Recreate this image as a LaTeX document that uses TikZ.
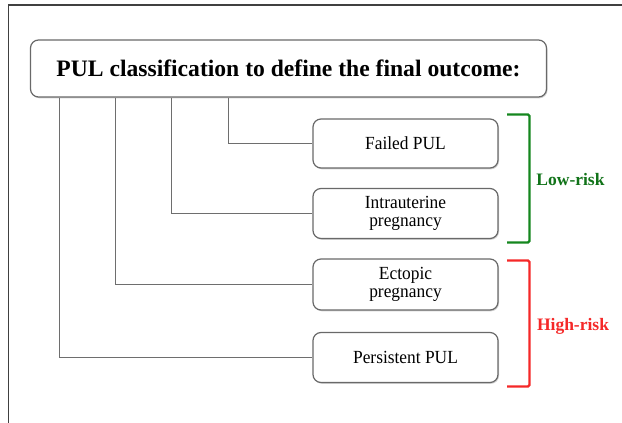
\documentclass[tikz,border=0pt]{standalone}
\usepackage{fontspec}
\setmainfont{Liberation Serif}
\newfontfamily\boxfont[FakeStretch=0.94]{Liberation Serif}
\usetikzlibrary{shadows}
\definecolor{boxline}{RGB}{105,105,105}
\definecolor{conline}{RGB}{110,110,110}
\definecolor{lowgreen}{RGB}{20,135,30}
\definecolor{highred}{RGB}{245,40,40}
\begin{document}
\begin{tikzpicture}[x=1pt,y=-1pt,
  rbox/.style={draw=boxline, line width=1.2pt, rounded corners=8pt, fill=white,
    drop shadow={shadow xshift=1pt, shadow yshift=-1.3pt, opacity=0.35, fill=gray},
    minimum width=185pt, align=center, font=\boxfont\fontsize{18.5}{17.5}\selectfont, inner sep=0pt},
  conn/.style={draw=conline, line width=1pt},
  bracket/.style={line width=2.2pt},
  risk/.style={font=\fontsize{17.5}{20}\selectfont\bfseries}]
\useasboundingbox (0,0) rectangle (622,423);
\fill[white] (0,0) rectangle (622,423);
% frame
\draw[line width=1.8pt, black!75] (8.5,423) -- (8.5,5) -- (622,5);
% header
\node[rbox, minimum width=516pt, minimum height=57pt, font=\fontsize{23.6}{28}\selectfont\bfseries]
  (head) at (288.5,68.5) {PUL classification to define the final outcome:};
% boxes
\node[rbox, minimum height=49pt] (failed) at (405.5,143.5) {Failed PUL};
\node[rbox, minimum height=50pt] (iup) at (405.5,213.5) {Intrauterine\\pregnancy};
\node[rbox, minimum height=51pt] (ect) at (405.5,284.5) {Ectopic\\pregnancy};
\node[rbox, minimum height=50pt] (pers) at (405.5,357.5) {Persistent PUL};
% connectors
\coordinate (c1) at (228.5,97);
\coordinate (c2) at (171.5,97);
\coordinate (c3) at (115.5,97);
\coordinate (c4) at (59.5,97);
\draw[conn] (head.south -| c1) |- (failed.west);
\draw[conn] (head.south -| c2) |- (iup.west);
\draw[conn] (head.south -| c3) |- (ect.west);
\draw[conn] (head.south -| c4) |- (pers.west);
% brackets
\coordinate (g1) at (507,114.5);
\coordinate (g2) at (529.5,114.5);
\coordinate (g3) at (529.5,242.5);
\coordinate (g4) at (507,242.5);
\draw[bracket, lowgreen, rounded corners=1.5pt] (g1) -- (g2) -- (g3) -- (g4);
\coordinate (r1) at (507,260.5);
\coordinate (r2) at (529.5,260.5);
\coordinate (r3) at (529.5,386.5);
\coordinate (r4) at (507,386.5);
\draw[bracket, highred, rounded corners=1.5pt] (r1) -- (r2) -- (r3) -- (r4);
\node[risk, text=lowgreen!85!black] (low) at (570.5,180) {Low-risk};
\node[risk, text=highred] (high) at (573,326) {High-risk};
\end{tikzpicture}
\end{document}
